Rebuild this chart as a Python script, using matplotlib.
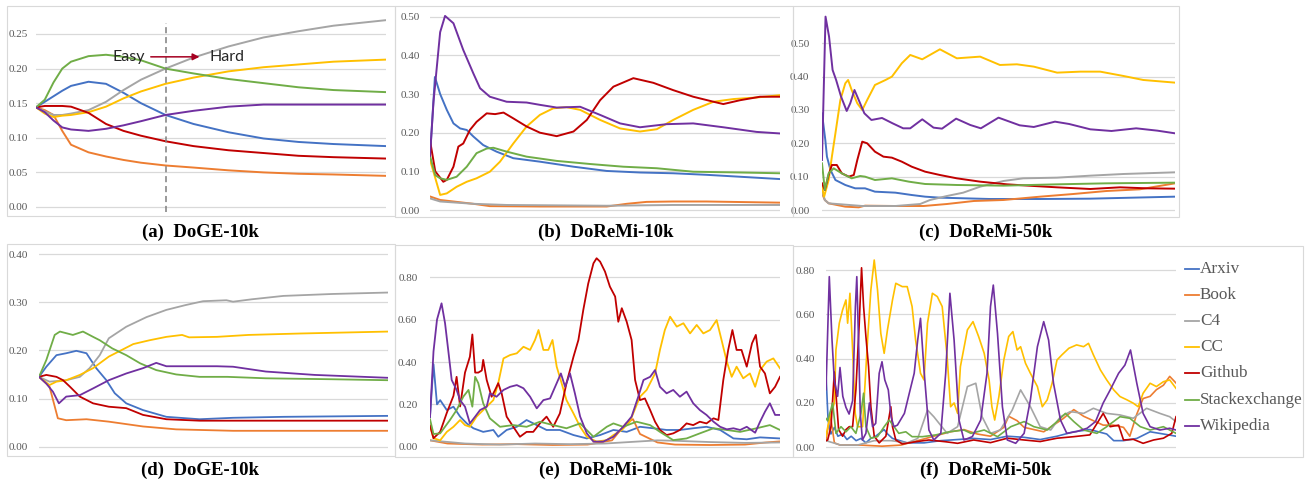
import matplotlib
matplotlib.use("Agg")
import matplotlib.pyplot as plt
import numpy as np
from matplotlib.patches import Rectangle
from matplotlib.lines import Line2D

plt.rcParams['font.family'] = ['Liberation Serif', 'DejaVu Serif']

# Домены и цвета (как в Excel)
DOMAINS = ["Arxiv", "Book", "C4", "CC", "Github", "Stackexchange", "Wikipedia"]
COLORS = ["#4472C4", "#ED7D31", "#A5A5A5", "#FFC000", "#C00000", "#70AD47", "#7030A0"]

# ---------- (a) DoGE-10k: сглаженные веса ----------
A_STEPS = [0, 0.25, 0.5, 0.75, 1.0, 1.5, 2.0, 2.5, 3.0, 3.7, 4.5, 5.5, 6.5, 7.5, 8.5, 10]
A_ARXIV = [0.144, 0.152, 0.160, 0.168, 0.175, 0.181, 0.178, 0.165, 0.150, 0.133, 0.120, 0.108, 0.099, 0.094, 0.091, 0.088]
A_BOOK = [0.144, 0.140, 0.133, 0.110, 0.090, 0.079, 0.073, 0.068, 0.064, 0.060, 0.057, 0.053, 0.050, 0.048, 0.047, 0.045]
A_C4 = [0.144, 0.138, 0.133, 0.133, 0.135, 0.140, 0.152, 0.169, 0.184, 0.200, 0.216, 0.232, 0.245, 0.254, 0.262, 0.270]
A_CC = [0.144, 0.135, 0.130, 0.132, 0.133, 0.137, 0.145, 0.157, 0.167, 0.178, 0.187, 0.196, 0.202, 0.206, 0.210, 0.213]
A_GITHUB = [0.144, 0.146, 0.146, 0.146, 0.145, 0.136, 0.120, 0.110, 0.103, 0.095, 0.088, 0.082, 0.078, 0.074, 0.072, 0.070]
A_STACK = [0.144, 0.155, 0.180, 0.200, 0.210, 0.218, 0.220, 0.217, 0.212, 0.200, 0.193, 0.185, 0.179, 0.173, 0.169, 0.166]
A_WIKI = [0.144, 0.137, 0.125, 0.115, 0.112, 0.110, 0.113, 0.118, 0.124, 0.133, 0.139, 0.145, 0.148, 0.148, 0.148, 0.148]
A_SPLIT = 3.7  # граница Easy -> Hard

# ---------- (b) DoReMi-10k: сглаженные веса ----------
B_ARXIV = [(0, 0.137), (0.14, 0.344), (0.29, 0.30), (0.48, 0.259), (0.67, 0.224), (0.86, 0.211), (1.05, 0.207),
           (1.24, 0.19), (1.52, 0.168), (1.9, 0.151), (2.38, 0.134), (3.14, 0.125), (4.1, 0.112), (5.05, 0.101),
           (6.0, 0.097), (6.95, 0.095), (7.9, 0.091), (8.86, 0.086), (10, 0.080)]
B_BOOK = [(0, 0.035), (0.29, 0.026), (1.24, 0.016), (1.71, 0.010), (3.14, 0.009), (5.05, 0.009), (5.62, 0.016),
          (6.19, 0.021), (6.95, 0.022), (7.9, 0.022), (10, 0.019)]
B_C4 = [(0, 0.03), (0.29, 0.022), (1.24, 0.016), (2.19, 0.013), (5.05, 0.011), (6.95, 0.013), (10, 0.013)]
B_CC = [(0, 0.13), (0.29, 0.039), (0.48, 0.043), (0.76, 0.060), (1.05, 0.073), (1.33, 0.082), (1.71, 0.099),
        (2.0, 0.125), (2.38, 0.172), (2.76, 0.216), (3.14, 0.246), (3.52, 0.263), (3.9, 0.266), (4.29, 0.259),
        (4.86, 0.233), (5.43, 0.211), (6.0, 0.203), (6.48, 0.209), (6.95, 0.233), (7.52, 0.259), (8.1, 0.280),
        (8.67, 0.287), (9.33, 0.291), (10, 0.297)]
B_GITHUB = [(0, 0.18), (0.15, 0.10), (0.38, 0.073), (0.48, 0.078), (0.67, 0.112), (0.81, 0.164), (0.95, 0.172),
            (1.14, 0.207), (1.33, 0.228), (1.62, 0.25), (1.86, 0.248), (2.1, 0.252), (2.38, 0.237), (2.76, 0.216),
            (3.14, 0.200), (3.62, 0.191), (4.1, 0.203), (4.48, 0.233), (4.86, 0.284), (5.24, 0.319), (5.81, 0.341),
            (6.38, 0.329), (6.95, 0.310), (7.52, 0.293), (8.1, 0.280), (8.38, 0.274), (8.86, 0.284), (9.43, 0.293),
            (10, 0.293)]
B_STACK = [(0, 0.14), (0.15, 0.09), (0.29, 0.082), (0.48, 0.078), (0.76, 0.086), (1.05, 0.112), (1.33, 0.147),
           (1.62, 0.159), (1.81, 0.161), (2.19, 0.151), (2.76, 0.138), (3.62, 0.127), (4.57, 0.119), (5.52, 0.112),
           (6.48, 0.108), (7.52, 0.099), (8.86, 0.097), (10, 0.095)]
B_WIKI = [(0, 0.14), (0.1, 0.28), (0.29, 0.46), (0.43, 0.502), (0.67, 0.483), (0.95, 0.414), (1.24, 0.353),
          (1.43, 0.315), (1.71, 0.293), (2.19, 0.280), (2.76, 0.278), (3.14, 0.272), (3.62, 0.265), (4.29, 0.267),
          (4.86, 0.246), (5.43, 0.224), (6.0, 0.214), (6.76, 0.222), (7.52, 0.224), (8.38, 0.214), (9.33, 0.202),
          (10, 0.198)]

# ---------- (c) DoReMi-50k: сглаженные веса ----------
C_ARXIV = [(0, 0.29), (0.47, 0.21), (0.7, 0.16), (1.2, 0.12), (1.9, 0.09), (3.3, 0.075), (4.7, 0.065), (6.1, 0.065),
           (7.5, 0.055), (10.4, 0.052), (12.7, 0.045), (14.6, 0.04), (16.7, 0.037), (23.8, 0.033), (30.9, 0.033),
           (38, 0.034), (50, 0.04)]
C_BOOK = [(0, 0.05), (0.4, 0.03), (0.94, 0.02), (3.3, 0.01), (5.2, 0.008), (6.1, 0.013), (10.4, 0.012), (14.4, 0.012),
          (17.7, 0.018), (21.5, 0.027), (25.7, 0.03), (30.9, 0.04), (35.6, 0.048), (40.3, 0.057), (45, 0.062), (50, 0.08)]
C_C4 = [(0, 0.06), (0.4, 0.03), (0.94, 0.02), (5.7, 0.012), (10.4, 0.012), (13.9, 0.018), (15.3, 0.03), (17.7, 0.042),
        (20, 0.052), (22.4, 0.07), (25.7, 0.087), (28.5, 0.095), (33.3, 0.097), (38, 0.103), (42.7, 0.108), (50, 0.113)]
C_CC = [(0, 0.07), (0.3, 0.04), (0.94, 0.09), (1.4, 0.16), (1.9, 0.23), (2.6, 0.33), (3.3, 0.38), (3.7, 0.39),
        (4.2, 0.36), (5.0, 0.32), (5.7, 0.30), (6.4, 0.33), (7.5, 0.375), (9.0, 0.39), (9.9, 0.40), (11.3, 0.44),
        (12.5, 0.465), (14.2, 0.452), (16.7, 0.482), (19.1, 0.455), (22.4, 0.46), (25.2, 0.435), (27.6, 0.437),
        (30, 0.43), (33.3, 0.412), (36.6, 0.415), (39.4, 0.415), (42.7, 0.402), (45.5, 0.39), (50, 0.382)]
C_GITHUB = [(0, 0.08), (0.4, 0.06), (0.94, 0.105), (1.4, 0.135), (2.1, 0.135), (2.8, 0.11), (3.8, 0.10), (4.5, 0.105),
            (5.0, 0.15), (5.7, 0.205), (6.4, 0.20), (7.5, 0.175), (8.7, 0.16), (9.9, 0.157), (11.3, 0.145),
            (12.7, 0.13), (14.6, 0.115), (16.7, 0.105), (19.1, 0.095), (22.4, 0.085), (26.2, 0.077), (30, 0.072),
            (33.3, 0.068), (38, 0.063), (42.2, 0.068), (46, 0.065), (50, 0.064)]
C_STACK = [(0, 0.14), (0.4, 0.06), (0.94, 0.11), (1.65, 0.125), (2.8, 0.11), (4.2, 0.095), (5.4, 0.102), (6.1, 0.10),
           (7.5, 0.09), (9.9, 0.095), (12.3, 0.085), (14.6, 0.078), (19.1, 0.075), (25.7, 0.073), (33.3, 0.077),
           (40.3, 0.08), (50, 0.082)]
C_WIKI = [(0, 0.15), (0.5, 0.58), (1.0, 0.52), (1.5, 0.42), (2.0, 0.39), (2.7, 0.34), (3.5, 0.297), (4.0, 0.32),
          (4.6, 0.36), (5.3, 0.325), (6.0, 0.29), (7.0, 0.27), (8.5, 0.276), (10, 0.26), (11.5, 0.245), (12.5, 0.245),
          (14.2, 0.272), (15.8, 0.247), (17, 0.244), (19, 0.274), (21, 0.255), (22.5, 0.245), (25, 0.277),
          (28, 0.254), (30, 0.249), (33, 0.265), (35, 0.258), (38, 0.242), (41, 0.237), (44.5, 0.245), (47.5, 0.238),
          (50, 0.230)]

# ---------- (d) DoGE-10k: мгновенные веса ----------
D_ARXIV = [(0, 0.145), (0.21, 0.166), (0.5, 0.19), (0.78, 0.194), (1.07, 0.199), (1.36, 0.194), (1.64, 0.163),
           (1.93, 0.138), (2.17, 0.111), (2.5, 0.09), (2.98, 0.076), (3.65, 0.062), (4.6, 0.057), (5.56, 0.06),
           (7.0, 0.062), (10, 0.064)]
D_BOOK = [(0, 0.145), (0.3, 0.125), (0.54, 0.059), (0.78, 0.055), (1.36, 0.057), (2.0, 0.052), (2.98, 0.042),
          (3.93, 0.036), (5.56, 0.033), (10, 0.033)]
D_C4 = [(0, 0.145), (0.3, 0.135), (0.78, 0.138), (1.17, 0.145), (1.45, 0.163), (1.74, 0.19), (2.0, 0.225),
        (2.5, 0.249), (3.08, 0.269), (3.65, 0.284), (4.2, 0.294), (4.7, 0.302), (5.37, 0.304), (5.56, 0.301),
        (6.1, 0.306), (7.0, 0.313), (8.4, 0.317), (10, 0.32)]
D_CC = [(0, 0.145), (0.3, 0.128), (0.5, 0.135), (0.78, 0.138), (1.17, 0.149), (1.55, 0.163), (2.0, 0.187),
        (2.7, 0.213), (3.17, 0.221), (3.65, 0.228), (4.1, 0.232), (4.3, 0.227), (5.1, 0.228), (6.0, 0.232),
        (7.5, 0.235), (10, 0.239)]
D_GITHUB = [(0, 0.145), (0.21, 0.149), (0.5, 0.145), (0.69, 0.138), (0.88, 0.125), (1.17, 0.104), (1.55, 0.09),
            (2.0, 0.083), (2.5, 0.08), (2.98, 0.066), (3.65, 0.057), (4.6, 0.054), (6.5, 0.054), (10, 0.054)]
D_STACK = [(0, 0.145), (0.21, 0.18), (0.45, 0.232), (0.6, 0.239), (0.97, 0.232), (1.26, 0.239), (1.55, 0.228),
           (1.74, 0.221), (2.1, 0.204), (2.5, 0.19), (2.9, 0.173), (3.36, 0.159), (3.93, 0.15), (4.6, 0.145),
           (5.4, 0.145), (6.5, 0.142), (8.4, 0.14), (10, 0.138)]
D_WIKI = [(0, 0.145), (0.21, 0.131), (0.4, 0.114), (0.57, 0.09), (0.78, 0.104), (1.17, 0.107), (1.55, 0.121),
          (2.0, 0.138), (2.5, 0.152), (2.98, 0.163), (3.36, 0.174), (3.65, 0.167), (4.4, 0.167), (5.1, 0.167),
          (5.56, 0.166), (6.5, 0.156), (7.9, 0.149), (10, 0.143)]

# ---------- (e) DoReMi-10k: мгновенные веса ----------
E_ARXIV = [(0, 0.14), (0.1, 0.39), (0.2, 0.2), (0.29, 0.22), (0.48, 0.173), (0.67, 0.189), (0.86, 0.142),
           (1.05, 0.11), (1.24, 0.087), (1.52, 0.07), (1.81, 0.079), (1.95, 0.047), (2.19, 0.079), (2.48, 0.094),
           (2.76, 0.126), (3.05, 0.102), (3.33, 0.079), (3.71, 0.079), (4.1, 0.055), (4.48, 0.039), (4.86, 0.055),
           (5.24, 0.079), (5.62, 0.07), (6.0, 0.094), (6.38, 0.087), (6.76, 0.079), (7.14, 0.079), (7.52, 0.087),
           (7.9, 0.094), (8.29, 0.079), (8.67, 0.039), (9.05, 0.035), (9.43, 0.044), (10, 0.039)]
E_BOOK = [(0, 0.03), (0.5, 0.015), (1.5, 0.01), (2.5, 0.012), (3.5, 0.008), (4.5, 0.01), (5.2, 0.03), (5.6, 0.11),
          (5.8, 0.13), (6.0, 0.06), (6.5, 0.02), (7, 0.01), (8, 0.008), (9, 0.01), (9.6, 0.02), (10, 0.025)]
E_C4 = [(0, 0.03), (1, 0.015), (2, 0.01), (3, 0.015), (4, 0.012), (5, 0.015), (6, 0.025), (6.5, 0.03), (7, 0.028),
        (8, 0.022), (9, 0.018), (10, 0.02)]
E_CC = [(0, 0.10), (0.1, 0.04), (0.29, 0.03), (0.48, 0.07), (0.67, 0.094), (0.86, 0.126), (1.0, 0.102),
        (1.14, 0.094), (1.33, 0.142), (1.52, 0.173), (1.81, 0.22), (1.95, 0.30), (2.1, 0.417), (2.29, 0.433),
        (2.48, 0.441), (2.67, 0.472), (2.86, 0.457), (3.0, 0.504), (3.1, 0.551), (3.24, 0.457), (3.38, 0.457),
        (3.5, 0.504), (3.62, 0.378), (3.76, 0.30), (3.9, 0.22), (4.1, 0.157), (4.29, 0.094), (4.48, 0.047),
        (4.76, 0.024), (5.05, 0.031), (5.24, 0.055), (5.48, 0.079), (5.71, 0.118), (6.0, 0.236), (6.19, 0.268),
        (6.43, 0.346), (6.57, 0.457), (6.71, 0.551), (6.86, 0.614), (7.05, 0.567), (7.24, 0.583), (7.43, 0.535),
        (7.62, 0.575), (7.81, 0.535), (8.0, 0.551), (8.19, 0.598), (8.33, 0.504), (8.48, 0.402), (8.62, 0.33),
        (8.76, 0.378), (8.95, 0.323), (9.14, 0.346), (9.29, 0.283), (9.43, 0.362), (9.62, 0.402), (9.81, 0.417),
        (10, 0.37)]
E_GITHUB = [(0, 0.10), (0.1, 0.04), (0.29, 0.07), (0.48, 0.16), (0.67, 0.24), (0.76, 0.33), (0.86, 0.19),
            (1.0, 0.35), (1.14, 0.425), (1.21, 0.53), (1.29, 0.35), (1.38, 0.35), (1.48, 0.36), (1.52, 0.41),
            (1.62, 0.315), (1.76, 0.236), (1.86, 0.268), (1.95, 0.30), (2.05, 0.25), (2.19, 0.142), (2.38, 0.094),
            (2.57, 0.047), (2.76, 0.07), (2.95, 0.07), (3.14, 0.11), (3.33, 0.142), (3.52, 0.094), (3.71, 0.157),
            (3.9, 0.30), (4.1, 0.425), (4.24, 0.504), (4.38, 0.646), (4.52, 0.77), (4.67, 0.866), (4.76, 0.89),
            (4.86, 0.874), (5.0, 0.827), (5.14, 0.756), (5.29, 0.709), (5.38, 0.59), (5.48, 0.654), (5.62, 0.59),
            (5.76, 0.504), (5.86, 0.315), (6.0, 0.22), (6.14, 0.228), (6.29, 0.173), (6.43, 0.118), (6.57, 0.079),
            (6.76, 0.055), (6.95, 0.063), (7.14, 0.079), (7.33, 0.11), (7.52, 0.102), (7.71, 0.118), (7.9, 0.11),
            (8.1, 0.134), (8.24, 0.126), (8.38, 0.315), (8.52, 0.457), (8.64, 0.551), (8.76, 0.457), (8.9, 0.457),
            (9.05, 0.378), (9.2, 0.488), (9.31, 0.528), (9.43, 0.378), (9.57, 0.346), (9.71, 0.252), (9.86, 0.283),
            (10, 0.33)]
E_STACK = [(0, 0.13), (0.1, 0.06), (0.29, 0.063), (0.57, 0.126), (0.76, 0.173), (0.95, 0.236), (1.1, 0.268),
           (1.21, 0.189), (1.29, 0.33), (1.38, 0.30), (1.52, 0.205), (1.71, 0.134), (2.0, 0.094), (2.38, 0.102),
           (2.76, 0.094), (3.14, 0.118), (3.52, 0.102), (3.9, 0.087), (4.29, 0.11), (4.67, 0.047), (5.05, 0.094),
           (5.24, 0.11), (5.52, 0.094), (5.9, 0.118), (6.29, 0.102), (6.57, 0.07), (6.95, 0.031), (7.33, 0.039),
           (7.71, 0.063), (8.1, 0.087), (8.48, 0.079), (8.86, 0.07), (9.33, 0.087), (9.71, 0.102), (10, 0.079)]
E_WIKI = [(0, 0.14), (0.1, 0.45), (0.2, 0.6), (0.33, 0.677), (0.43, 0.583), (0.52, 0.457), (0.62, 0.315),
          (0.76, 0.268), (0.86, 0.22), (1.0, 0.189), (1.14, 0.11), (1.29, 0.142), (1.43, 0.173), (1.62, 0.189),
          (1.71, 0.252), (1.9, 0.236), (2.1, 0.268), (2.29, 0.283), (2.48, 0.291), (2.67, 0.276), (2.86, 0.236),
          (3.05, 0.181), (3.24, 0.22), (3.43, 0.228), (3.62, 0.30), (3.74, 0.346), (3.86, 0.283), (4.0, 0.346),
          (4.14, 0.252), (4.29, 0.142), (4.48, 0.063), (4.67, 0.024), (4.95, 0.024), (5.24, 0.047), (5.52, 0.094),
          (5.76, 0.142), (5.95, 0.236), (6.1, 0.315), (6.29, 0.33), (6.43, 0.362), (6.57, 0.283), (6.76, 0.252),
          (6.95, 0.268), (7.14, 0.236), (7.33, 0.26), (7.52, 0.205), (7.71, 0.173), (7.9, 0.15), (8.1, 0.118),
          (8.29, 0.094), (8.48, 0.082), (8.67, 0.087), (8.86, 0.079), (9.05, 0.094), (9.29, 0.066), (9.43, 0.118),
          (9.57, 0.165), (9.71, 0.205), (9.86, 0.15), (10, 0.15)]

# ---------- (f) DoReMi-50k: мгновенные веса ----------
F_ARXIV = [(0, 0.33), (0.3, 0.12), (0.7, 0.06), (1.2, 0.09), (1.7, 0.05), (2.4, 0.06), (3.0, 0.035), (3.6, 0.05),
           (4.3, 0.03), (5.0, 0.04), (5.7, 0.02), (6.4, 0.04), (7.1, 0.05), (8.3, 0.08), (8.8, 0.06), (9.5, 0.04),
           (11.6, 0.02), (14.0, 0.02), (16.4, 0.03), (18.8, 0.035), (21.1, 0.04), (23.5, 0.035), (25.9, 0.05),
           (28.3, 0.045), (30.6, 0.035), (33.0, 0.05), (35.4, 0.07), (37.7, 0.08), (40.1, 0.06), (41.1, 0.03),
           (42.5, 0.03), (44.4, 0.04), (46.3, 0.07), (48.2, 0.06), (50, 0.05)]
F_BOOK = [(0, 0.03), (0.6, 0.15), (1.2, 0.02), (2.0, 0.01), (5.0, 0.01), (8.0, 0.005), (10.7, 0.01), (13.1, 0.03),
          (15.4, 0.05), (17.8, 0.07), (19.7, 0.08), (21.6, 0.06), (23.5, 0.05), (25.4, 0.09), (26.1, 0.14),
          (27.3, 0.12), (28.3, 0.09), (29.7, 0.08), (31.1, 0.07), (32.5, 0.1), (33.9, 0.13), (35.4, 0.17),
          (36.8, 0.14), (38.2, 0.12), (39.6, 0.1), (41.1, 0.1), (42.5, 0.09), (43.4, 0.05), (44.4, 0.15),
          (45.3, 0.22), (46.3, 0.23), (47.2, 0.26), (48.2, 0.28), (49.1, 0.32), (50, 0.29)]
F_C4 = [(0, 0.03), (2.1, 0.01), (4.5, 0.01), (6.9, 0.03), (9.3, 0.03), (11.6, 0.02), (13.1, 0.04), (14.5, 0.168),
        (15.4, 0.138), (17.3, 0.063), (18.8, 0.093), (20.2, 0.274), (21.4, 0.289), (22.3, 0.138), (23.5, 0.063),
        (24.9, 0.078), (26.6, 0.168), (27.8, 0.259), (29.2, 0.183), (30.6, 0.093), (32.1, 0.078), (33.5, 0.138),
        (34.9, 0.161), (36.8, 0.153), (38.2, 0.176), (40.1, 0.153), (42.0, 0.146), (43.9, 0.131), (45.8, 0.176),
        (47.7, 0.153), (49.1, 0.138), (50, 0.116)]
F_CC = [(0, 0.05), (0.3, 0.1), (0.71, 0.15), (1.19, 0.2), (1.42, 0.44), (1.9, 0.56), (2.37, 0.62), (2.85, 0.665),
        (3.09, 0.56), (3.42, 0.695), (3.8, 0.44), (4.18, 0.153), (4.51, 0.093), (5.22, 0.093), (5.94, 0.484),
        (6.41, 0.71), (6.89, 0.845), (7.36, 0.71), (7.83, 0.514), (8.31, 0.424), (8.78, 0.53), (9.5, 0.665),
        (9.97, 0.74), (10.9, 0.725), (11.6, 0.725), (12.3, 0.635), (12.8, 0.484), (13.5, 0.334), (14.0, 0.304),
        (14.5, 0.56), (15.2, 0.695), (15.9, 0.68), (16.6, 0.635), (17.3, 0.41), (17.8, 0.183), (18.3, 0.2),
        (18.8, 0.153), (19.2, 0.364), (20.2, 0.53), (21.0, 0.567), (21.8, 0.5), (22.6, 0.424), (23.3, 0.304),
        (23.7, 0.183), (24.1, 0.123), (24.7, 0.229), (25.4, 0.394), (26.1, 0.5), (26.7, 0.522), (27.3, 0.439),
        (27.8, 0.454), (28.5, 0.379), (29.2, 0.334), (30.2, 0.274), (30.9, 0.183), (31.6, 0.214), (32.3, 0.289),
        (33.0, 0.394), (33.7, 0.417), (34.7, 0.447), (35.8, 0.462), (36.8, 0.454), (37.5, 0.469), (38.2, 0.417),
        (39.2, 0.349), (40.1, 0.304), (41.1, 0.259), (42.0, 0.229), (43.0, 0.214), (43.9, 0.199), (44.6, 0.183),
        (45.3, 0.244), (46.3, 0.289), (47.2, 0.274), (48.2, 0.296), (49.1, 0.304), (50, 0.266)]
F_GITHUB = [(0, 0.03), (0.24, 0.033), (0.71, 0.093), (1.19, 0.34), (1.52, 0.2), (1.8, 0.08), (2.37, 0.05),
            (2.85, 0.08), (3.32, 0.093), (3.8, 0.093), (4.27, 0.26), (4.75, 0.56), (5.08, 0.81), (5.37, 0.635),
            (5.7, 0.5), (6.08, 0.364), (6.41, 0.183), (6.89, 0.05), (7.6, 0.02), (8.55, 0.05), (9.26, 0.183),
            (9.5, 0.093), (9.97, 0.033), (10.9, 0.015), (12.8, 0.025), (14.7, 0.033), (17.1, 0.025), (18.8, 0.018),
            (21.1, 0.033), (23.5, 0.021), (25.9, 0.041), (28.3, 0.033), (30.6, 0.026), (33, 0.041), (35.4, 0.048),
            (37.7, 0.056), (39.6, 0.153), (40.6, 0.093), (41.8, 0.1), (42.5, 0.033), (43.9, 0.036), (45.3, 0.018),
            (46.8, 0.033), (48.2, 0.041), (49.4, 0.063), (50, 0.138)]
F_STACK = [(0, 0.13), (0.24, 0.12), (0.95, 0.2), (1.42, 0.063), (2.14, 0.093), (2.85, 0.07), (3.56, 0.093),
           (4.27, 0.063), (4.99, 0.153), (5.37, 0.244), (5.7, 0.093), (6.41, 0.041), (7.36, 0.048), (8.31, 0.093),
           (9.02, 0.123), (9.73, 0.093), (10.4, 0.063), (11.4, 0.07), (12.3, 0.048), (13.8, 0.048), (15.7, 0.056),
           (17.6, 0.07), (19.7, 0.078), (20.7, 0.063), (22.6, 0.078), (24.5, 0.048), (26.4, 0.093), (28.3, 0.116),
           (29.7, 0.093), (31.6, 0.078), (33, 0.116), (34.2, 0.153), (35.4, 0.116), (36.8, 0.078), (38.7, 0.063),
           (40.1, 0.093), (42.0, 0.138), (43.4, 0.131), (44.9, 0.093), (46.3, 0.078), (48.2, 0.093), (50, 0.063)]
F_WIKI = [(0, 0.26), (0.47, 0.77), (0.85, 0.49), (1.19, 0.3), (1.66, 0.23), (2.0, 0.36), (2.4, 0.23), (2.85, 0.18),
          (3.3, 0.15), (3.8, 0.21), (4.2, 0.635), (4.4, 0.77), (4.65, 0.48), (4.9, 0.153), (5.2, 0.033), (5.7, 0.063),
          (6.2, 0.2), (6.65, 0.093), (7.1, 0.108), (7.6, 0.334), (8.0, 0.386), (8.4, 0.304), (8.9, 0.259),
          (9.3, 0.138), (9.7, 0.093), (10.2, 0.1), (11.2, 0.153), (11.9, 0.244), (12.6, 0.334), (13.1, 0.484),
          (13.5, 0.582), (14.0, 0.349), (14.7, 0.078), (15.4, 0.033), (16.4, 0.063), (17.1, 0.334), (17.7, 0.695),
          (18.3, 0.484), (19.0, 0.123), (19.7, 0.033), (20.9, 0.048), (22.1, 0.123), (23.0, 0.334), (23.5, 0.635),
          (23.9, 0.732), (24.5, 0.514), (25.2, 0.183), (25.9, 0.033), (27.1, 0.018), (28.3, 0.063), (29.2, 0.214),
          (30.2, 0.454), (31.1, 0.567), (31.8, 0.484), (32.5, 0.289), (33.5, 0.123), (34.4, 0.063), (35.8, 0.071),
          (37.3, 0.086), (38.5, 0.116), (39.6, 0.2), (40.6, 0.259), (41.8, 0.334), (42.7, 0.371), (43.5, 0.439),
          (44.4, 0.289), (45.3, 0.153), (46.3, 0.093), (47.7, 0.078), (49.1, 0.086), (50, 0.078)]

CAPTIONS = ["(a)  DoGE-10k", "(b)  DoReMi-10k", "(c)  DoReMi-50k",
            "(d)  DoGE-10k", "(e)  DoReMi-10k", "(f)  DoReMi-50k"]

W, H = 1313, 483
fig = plt.figure(figsize=(W / 100, H / 100), dpi=100)


def frac(x0, y0, x1, y1):
    # пиксели картинки -> доли фигуры
    return [x0 / W, 1 - y1 / H, (x1 - x0) / W, (y1 - y0) / H]


def add_panel(box, zero_py, ref_py, ref_val, ticks, xmax, series, lw, pad):
    x0, y0, x1, y1 = box
    ax = fig.add_axes(frac(x0, y0, x1, y1))
    per_px = ref_val / (zero_py - ref_py)
    ax.set_ylim(-(y1 - zero_py) * per_px, (zero_py - y0) * per_px)
    ax.set_xlim(0, xmax)
    ax.set_yticks(ticks)
    ax.set_yticklabels([f"{t:.2f}" for t in ticks])
    ax.set_xticks([])
    for sp in ax.spines.values():
        sp.set_visible(False)
    ax.yaxis.grid(True, color="#D9D9D9", lw=0.9)
    ax.set_axisbelow(True)
    ax.tick_params(axis="y", length=0, pad=pad, labelsize=8, labelcolor="#595959")
    for (xs, ys), color in zip(series, COLORS):
        ax.plot(xs, ys, color=color, lw=lw, solid_joinstyle="round")
    return ax


def unzip(pts):
    arr = np.array(pts)
    return arr[:, 0], arr[:, 1]


# рамки панелей
for bx in [(7, 6, 395, 216), (395, 6, 793, 217), (793, 6, 1179, 217),
           (7, 244, 395, 456), (395, 245, 793, 457), (793, 246, 1303, 457)]:
    fig.add_artist(Rectangle((bx[0] / W, 1 - bx[3] / H), (bx[2] - bx[0]) / W, (bx[3] - bx[1]) / H,
                             transform=fig.transFigure, fill=False, ec="#D9D9D9", lw=0.8))

a_series = [(A_STEPS, s) for s in [A_ARXIV, A_BOOK, A_C4, A_CC, A_GITHUB, A_STACK, A_WIKI]]
ax_a = add_panel((36, 9, 386, 214), 207, 34, 0.25, np.arange(0, 0.26, 0.05), 10, a_series, 1.4, 6)
ax_a.vlines(A_SPLIT, -0.007, 0.266, colors="#7F7F7F", linestyles=(0, (4, 2.5)), lw=1.1)
ax_a.annotate("", xy=(4.75, 0.217), xytext=(3.2, 0.217),
              arrowprops=dict(arrowstyle="-|>", color="#A50021", lw=1.1, mutation_scale=10))
ax_a.text(3.1, 0.217, "Easy", ha="right", va="center", fontsize=11.5, family="Lato", color="#262626")
ax_a.text(4.95, 0.217, "Hard", ha="left", va="center", fontsize=11.5, family="Lato", color="#262626")

b_series = [unzip(s) for s in [B_ARXIV, B_BOOK, B_C4, B_CC, B_GITHUB, B_STACK, B_WIKI]]
add_panel((430, 9, 780, 214), 210, 16.7, 0.5, np.arange(0, 0.51, 0.1), 10, b_series, 1.4, 7)

c_series = [unzip(s) for s in [C_ARXIV, C_BOOK, C_C4, C_CC, C_GITHUB, C_STACK, C_WIKI]]
add_panel((822, 9, 1175, 214), 210, 43.3, 0.5, np.arange(0, 0.51, 0.1), 50, c_series, 1.4, 9)

d_series = [unzip(s) for s in [D_ARXIV, D_BOOK, D_C4, D_CC, D_GITHUB, D_STACK, D_WIKI]]
add_panel((39, 248, 388, 453), 446.7, 254, 0.4, np.arange(0, 0.41, 0.1), 10, d_series, 1.3, 8)

e_series = [unzip(s) for s in [E_ARXIV, E_BOOK, E_C4, E_CC, E_GITHUB, E_STACK, E_WIKI]]
add_panel((430, 248, 780, 453), 446.7, 277.3, 0.8, np.arange(0, 0.81, 0.2), 10, e_series, 1.3, 9)

f_series = [unzip(s) for s in [F_ARXIV, F_BOOK, F_C4, F_CC, F_GITHUB, F_STACK, F_WIKI]]
add_panel((826, 248, 1176, 453), 447.3, 270, 0.8, np.arange(0, 0.81, 0.2), 50, f_series, 1.2, 8)

# легенда справа от (f)
for i, (name, color) in enumerate(zip(DOMAINS, COLORS)):
    py = 269 + i * 26.1
    fig.add_artist(Line2D([1185 / W, 1199 / W], [1 - py / H] * 2, color=color, lw=1.3,
                          transform=fig.transFigure))
    fig.text(1200 / W, 1 - py / H, name, ha="left", va="center", fontsize=12.3, color="#595959")

# подписи панелей
for cap, (cx, cy) in zip(CAPTIONS, [(200, 232), (606, 232), (986, 232), (200, 470), (606, 470), (986, 470)]):
    fig.text(cx / W, 1 - cy / H, cap, ha="center", va="center", fontsize=13.5, fontweight="bold", color="#000000")

fig.savefig("out.png", dpi=100)
